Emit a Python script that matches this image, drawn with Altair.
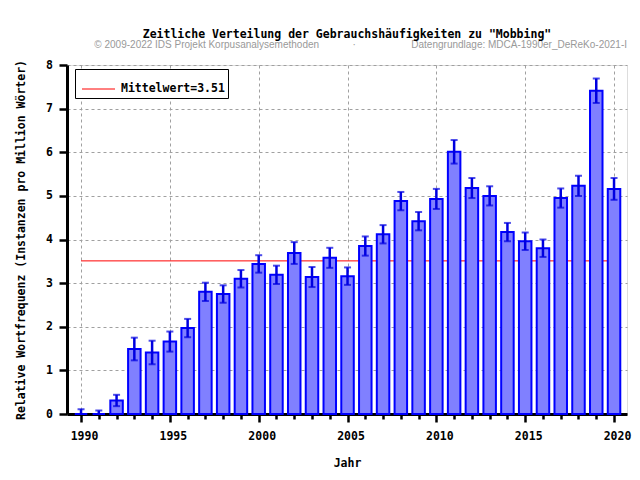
import altair as alt
import pandas as pd

# ---- data ----
years = list(range(1990, 2021))
values = [0.0, 0.0, 0.31, 1.49, 1.41, 1.66, 1.97, 2.80, 2.75, 3.10,
          3.44, 3.19, 3.69, 3.14, 3.58, 3.16, 3.85, 4.12, 4.88, 4.42,
          4.93, 6.01, 5.18, 5.00, 4.17, 3.96, 3.80, 4.95, 5.23, 7.41, 5.16]
errors = [0.11, 0.08, 0.13, 0.26, 0.27, 0.23, 0.21, 0.21, 0.20, 0.20,
          0.20, 0.21, 0.25, 0.23, 0.23, 0.20, 0.22, 0.21, 0.21, 0.21,
          0.23, 0.27, 0.23, 0.22, 0.21, 0.20, 0.20, 0.22, 0.23, 0.28, 0.25]
mean_value = 3.51
mean_label = "Mittelwert=3.51"
y_ticks = [i / 2 for i in range(0, 17)]

title_text = 'Zeitliche Verteilung der Gebrauchshäufigkeiten zu "Mobbing"'
subtitle_text = ("© 2009-2022 IDS Projekt Korpusanalysemethoden" + "\u00a0" * 12 + "·"
                 + "\u00a0" * 20 + "Datengrundlage: MDCA-1990er_DeReKo-2021-I")

df = pd.DataFrame({"year": years, "value": values, "err": errors})
df["lo"] = df["value"] - df["err"]
df["hi"] = df["value"] + df["err"]
mean_df = pd.DataFrame({"x0": [years[0]], "x1": [years[-1]], "mean": [mean_value], "label": [mean_label]})
sub_df = pd.DataFrame({"t": [subtitle_text]})

MONO = "DejaVu Sans Mono"
FS = 11.5

xscale = alt.Scale(domain=[1989.21, 2020.73], nice=False, zero=False, padding=0)
yscale = alt.Scale(domain=[0, 8], nice=False, padding=0)

x_axis = alt.Axis(
    values=years, format="d",
    labelExpr="datum.value % 5 == 0 ? datum.label : ''",
    grid=True, gridColor="#a0a0a0", gridDash=[3, 3], gridWidth=1,
    gridOpacity={"condition": {"test": "datum.value % 5 != 0", "value": 0}, "value": 1},
    tickSize={"condition": {"test": "datum.value % 5 == 0", "value": 8}, "value": 5},
    tickWidth=2.5, tickColor="black", domainColor="black", domainWidth=3,
    labelFont=MONO, labelFontSize=FS, labelFontWeight="bold", labelColor="black",
    labelPadding=8.5, labelOffset=3, labelOverlap=False, labelFlush=False,
    title="Jahr", titleFont=MONO, titleFontSize=FS, titleFontWeight="bold",
    titleColor="black", titlePadding=15.5,
)
y_axis = alt.Axis(
    values=y_ticks, format="d",
    labelExpr="datum.value % 1 == 0 ? datum.label : ''",
    grid=True, gridColor="#a0a0a0", gridDash=[3, 3], gridWidth=1,
    gridOpacity={"condition": {"test": "datum.value % 1 != 0", "value": 0}, "value": 1},
    tickSize={"condition": {"test": "datum.value % 1 == 0", "value": 8}, "value": 5},
    tickWidth=2.5, tickColor="black", domainColor="black", domainWidth=3,
    labelFont=MONO, labelFontSize=FS, labelFontWeight="bold", labelColor="black",
    labelPadding=6.5, labelOverlap=False, labelFlush=False,
    title="Relative Wortfrequenz (Instanzen pro Million Wörter)",
    titleFont=MONO, titleFontSize=FS, titleFontWeight="bold", titleColor="black",
    titlePadding=19,
)

def X(field):
    return alt.X(field, type="quantitative", scale=xscale, axis=x_axis)

def Y(field):
    return alt.Y(field, type="quantitative", scale=yscale, axis=y_axis)

mean_rule = alt.Chart(mean_df).mark_rule(strokeWidth=1).encode(
    x=X("x0"), x2="x1", y=Y("mean"),
    color=alt.Color("label:N", scale=alt.Scale(domain=[mean_label], range=["#ff0000"]),
                    legend=alt.Legend(
                        orient="none", legendX=8, legendY=4, title=None,
                        symbolType="stroke", symbolSize=1089, symbolStrokeWidth=1,
                        symbolOffset=3.5, labelOffset=5.5, padding=3,
                        labelFont=MONO, labelFontSize=FS, labelFontWeight="bold",
                        labelColor="black", strokeColor="black", fillColor="white",
                        labelExpr="datum.label + '\u00a0'")),
)

bars = alt.Chart(df).mark_bar(size=12.5, fill="#8080ff", stroke="#0000ff", strokeWidth=2).encode(
    x=X("year"), y=Y("value"),
)

err_rule = alt.Chart(df).mark_rule(color="#0000e0", strokeWidth=2.5, clip=True).encode(
    x=X("year"), y=Y("lo"), y2="hi",
)
cap_hi = alt.Chart(df).mark_tick(color="#0000e0", orient="horizontal", size=7, thickness=2, clip=True).encode(
    x=X("year"), y=Y("hi"),
)
cap_lo = alt.Chart(df).mark_tick(color="#0000e0", orient="horizontal", size=7, thickness=2, clip=True).encode(
    x=X("year"), y=Y("lo"),
)

subtitle = alt.Chart(sub_df).mark_text(
    align="right", baseline="alphabetic", font="Liberation Sans", fontSize=10, color="#999999",
).encode(text="t:N", x=alt.value(560), y=alt.value(-17))

chart = alt.layer(mean_rule, bars, err_rule, cap_hi, cap_lo, subtitle).properties(
    width=560, height=349,
    title=alt.TitleParams(text=title_text, font=MONO, fontSize=FS, fontWeight="bold",
                          color="black", anchor="middle", baseline="alphabetic", offset=-9,
                          frame="group"),
    autosize=alt.AutoSizeParams(type="none"),
    padding={"left": 59, "top": 57, "right": 5, "bottom": 62},
).configure_view(stroke="black", strokeWidth=3).configure(background="white")

chart.save("out.html", embed_options={"renderer": "svg", "actions": False})
